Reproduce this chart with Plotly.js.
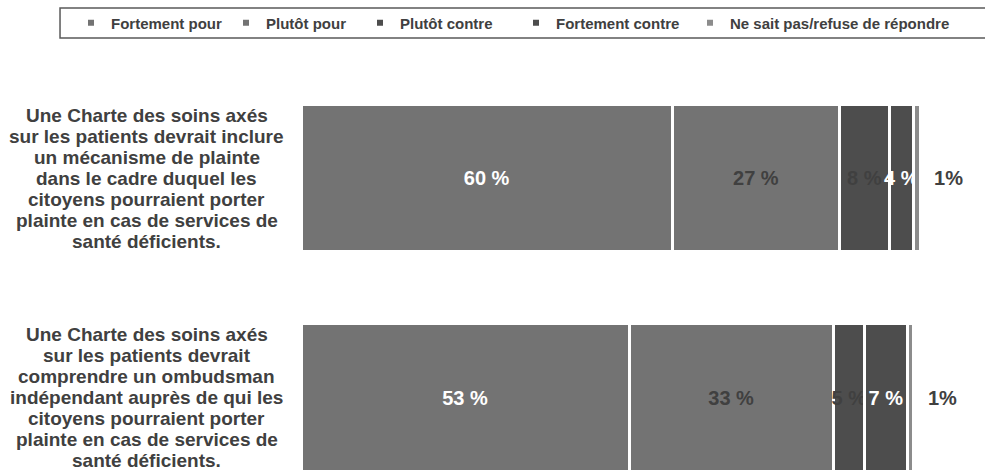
<!DOCTYPE html>
<html><head><meta charset="utf-8">
<script src="https://cdn.plot.ly/plotly-3.0.1.min.js"></script>
<style>html,body{margin:0;padding:0;background:#fff}#chart{width:985px;height:474px}</style>
</head><body><div id="chart"></div>
<script>
// ---- data ----
const categories = ["Charte – mécanisme de plainte", "Charte – ombudsman indépendant"];
const categoryLines = [
  ["Une Charte des soins axés", "sur les patients devrait inclure", "un mécanisme de plainte", "dans le cadre duquel les", "citoyens pourraient porter", "plainte en cas de services de", "santé déficients."],
  ["Une Charte des soins axés", "sur les patients devrait", "comprendre un ombudsman", "indépendant auprès de qui les", "citoyens pourraient porter", "plainte en cas de services de", "santé déficients."]
];
const seriesNames = ["Fortement pour", "Plutôt pour", "Plutôt contre", "Fortement contre", "Ne sait pas/refuse de répondre"];
const fortementPour = [60, 53];
const plutotPour = [27, 33];
const plutotContre = [8, 5];
const fortementContre = [4, 7];
const nspRefuse = [1, 1];
const valueTemplates = ["%{x} %", "%{x} %", "%{x} %", "%{x} %", "\u00a0\u00a0%{x}%"];

// ---- styles ----
const seriesColors = ["#737373", "#737373", "#4d4d4d", "#4d4d4d", "#8c8c8c"];
const labelColors = ["#ffffff", "#404040", "#404040", "#ffffff", "#404040"];
const legendWidths = [110, 89, 111, 129, 250];
const FONT = "Arial, 'Liberation Sans', sans-serif";
const TEXT = "#404040";

const seriesValues = [fortementPour, plutotPour, plutotContre, fortementContre, nspRefuse];

const traces = [];
seriesValues.forEach((vals, i) => {
  const last = i === seriesValues.length - 1;
  traces.push({
    type: "bar", orientation: "h",
    x: vals, y: categories,
    name: seriesNames[i], showlegend: false,
    marker: { color: seriesColors[i], line: { color: "#ffffff", width: 3 } },
    texttemplate: valueTemplates[i],
    textposition: last ? "outside" : "inside",
    insidetextanchor: "middle",
    textangle: 0,
    constraintext: "none",
    cliponaxis: false,
    textfont: { family: FONT, size: 20, color: labelColors[i], weight: 700 },
    hoverinfo: "skip"
  });
});
// legend entries (small square markers)
seriesNames.forEach((n, i) => {
  traces.push({
    type: "scatter", mode: "markers", x: [null], y: [null],
    name: n, legendwidth: legendWidths[i],
    marker: { symbol: "square", size: 6, color: seriesColors[i] },
    hoverinfo: "skip"
  });
});

const annotations = [];
categoryLines.forEach((lines, ci) => {
  const mid = (lines.length - 1) / 2;
  lines.forEach((t, li) => {
    annotations.push({
      x: -0.2488, xref: "paper", y: categories[ci], yref: "y",
      yshift: (mid - li) * 21,
      text: t, showarrow: false, xanchor: "center", yanchor: "middle",
      font: { family: FONT, size: 19, color: TEXT, weight: 700 }
    });
  });
});

const layout = {
  width: 985, height: 474,
  margin: { l: 301, r: 65, t: 60, b: 0, pad: 0 },
  paper_bgcolor: "#ffffff", plot_bgcolor: "#ffffff",
  barmode: "stack", bargap: 0.33,
  font: { family: FONT, color: TEXT },
  xaxis: { range: [0, 100], visible: false, fixedrange: true },
  yaxis: { type: "category", range: [1.3485, -0.5376], visible: false, fixedrange: true },
  showlegend: true,
  legend: {
    orientation: "h", x: -0.3586, xanchor: "left", y: 1.0894, yanchor: "middle",
    font: { family: FONT, size: 15, color: TEXT, weight: 700 },
    bgcolor: "rgba(0,0,0,0)", borderwidth: 0, traceorder: "normal"
  },
  shapes: [{
    type: "rect", xref: "paper", yref: "paper",
    x0: -0.3893, x1: 1.12, y0: 1.0531, y1: 1.1256,
    line: { color: "#595959", width: 1.5 }, fillcolor: "rgba(0,0,0,0)"
  }],
  annotations: annotations
};

Plotly.newPlot("chart", traces, layout, { displayModeBar: false, staticPlot: true });
</script>
</body></html>
